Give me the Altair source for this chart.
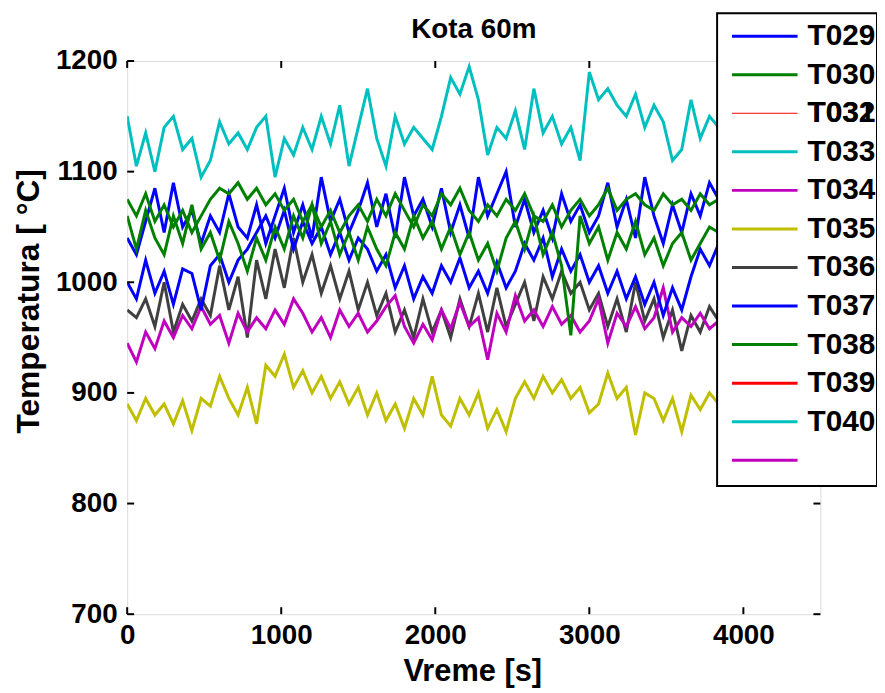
import altair as alt
import pandas as pd

# ---------------- data ----------------
time_s = list(range(0, 3841, 60))  # sampling instants [s]

T029 = [1040,1025,1055,1085,1045,1090,1050,1065,1035,1060,
        1045,1080,1050,1040,1070,1035,1060,1085,1045,1070,
        1040,1095,1055,1075,1045,1065,1090,1050,1080,1040,
        1095,1060,1075,1050,1085,1045,1070,1040,1095,1060,
        1080,1100,1050,1075,1045,1065,1040,1080,1055,1070,
        1045,1060,1090,1050,1075,1040,1095,1060,1035,1070,
        1045,1080,1060,1090,1075]
T030 = [1075,1060,1080,1055,1070,1050,1065,1045,1060,1075,
        1085,1080,1090,1075,1085,1070,1080,1065,1075,1055,
        1070,1050,1065,1045,1060,1070,1055,1075,1060,1080,
        1065,1050,1070,1060,1080,1070,1085,1065,1055,1070,
        1060,1075,1065,1080,1060,1055,1070,1050,1065,1075,
        1060,1070,1085,1065,1075,1080,1070,1065,1080,1070,
        1075,1065,1080,1070,1075]
T033 = [1150,1105,1135,1100,1140,1150,1120,1130,1095,1110,
        1145,1125,1135,1120,1140,1150,1095,1130,1115,1140,
        1120,1150,1125,1160,1105,1140,1175,1130,1105,1150,
        1125,1140,1130,1120,1150,1185,1170,1195,1165,1115,
        1140,1130,1155,1120,1175,1135,1150,1125,1140,1110,
        1190,1165,1175,1160,1150,1170,1140,1160,1145,1110,
        1120,1165,1130,1150,1140]
T034 = [945,928,955,940,965,950,970,958,978,962,
        970,945,972,955,968,958,975,962,985,972,
        955,968,950,975,960,972,955,965,978,988,
        960,945,962,948,975,958,982,960,968,930,
        972,955,988,965,975,960,978,962,970,955,
        965,985,945,972,960,978,958,968,995,955,
        968,960,972,958,965]
T035 = [890,875,895,880,890,872,893,866,895,888,
        915,895,880,905,872,925,915,935,905,920,
        900,915,895,910,890,905,880,900,875,890,
        868,895,880,915,880,870,895,880,900,868,
        885,865,895,910,895,915,900,912,895,905,
        882,890,918,895,905,862,900,895,875,895,
        865,898,885,900,890]
T036 = [975,968,985,960,1000,955,980,965,985,970,
        1015,975,1005,950,1020,985,1030,995,1040,1000,
        1025,990,1015,985,1010,975,1000,970,990,955,
        975,950,985,955,975,950,985,960,990,955,
        995,960,980,1000,965,1005,985,1010,990,1000,
        975,990,960,985,955,1000,965,985,950,975,
        938,970,955,978,965]
T037 = [1000,985,1020,990,1010,980,1012,1008,975,1015,
        1025,1000,1020,1030,1045,1060,1040,1065,1030,1055,
        1035,1050,1025,1045,1020,1040,1030,1010,1025,995,
        1015,985,1005,990,1015,1000,1022,995,1010,990,
        1018,995,1010,1035,1020,1040,1005,1030,1010,1025,
        1000,1015,990,1010,985,1005,980,1000,970,995,
        975,1005,1030,1015,1035]
T038 = [1060,1030,1065,1040,1025,1060,1035,1070,1030,1045,
        1020,1055,1035,1010,1040,1020,1050,1030,1060,1040,
        1070,1035,1055,1025,1045,1020,1050,1030,1015,1045,
        1030,1060,1040,1055,1030,1050,1025,1045,1020,1035,
        1010,1040,1055,1030,1060,1025,1045,1015,952,1060,
        1035,1050,1020,1045,1030,1055,1025,1040,1015,1035,
        1045,1020,1035,1050,1045]

# drawing order (first drawn at the bottom)
series_names = ["T033", "T035", "T036", "T034", "T029", "T037", "T030", "T038"]
series_values = [T033, T035, T036, T034, T029, T037, T030, T038]
series_colors = ["#00BFBF", "#BFBF00", "#404040", "#BF00BF",
                 "#0000FF", "#0000FF", "#008000", "#008000"]

x_ticks = [0, 1000, 2000, 3000, 4000]
y_ticks = [700, 800, 900, 1000, 1100, 1200]

title_text = "Kota 60m"
x_title = "Vreme [s]"
y_title = "Temperatura [ °C]"

# legend rows: labels (row 3 has two labels printed on top of each other)
legend_labels = [["T029"], ["T030"], ["T031", "T032"], ["T033"], ["T034"], ["T035"],
                 ["T036"], ["T037"], ["T038"], ["T039"], ["T040"], []]
legend_colors = ["#0000FF", "#008000", "#FF0000", "#00BFBF", "#BF00BF", "#BFBF00",
                 "#404040", "#0000FF", "#008000", "#FF0000", "#00BFBF", "#BF00BF"]
legend_widths = [3, 3, 1, 3, 3, 3, 3, 3, 3, 3, 3, 3]

# ---------------- tables ----------------
rows = []
for k, (name, vals) in enumerate(zip(series_names, series_values)):
    for t, v in zip(time_s, vals):
        rows.append({"series": name, "t": t, "temp": v, "k": k})
df = pd.DataFrame(rows)

leg_lines = pd.DataFrame({"row": list(range(len(legend_colors))),
                          "c": legend_colors, "w": legend_widths})
leg_text = pd.DataFrame([{"row": i, "label": lab}
                         for i, labs in enumerate(legend_labels) for lab in labs])

FONT = "Liberation Sans"
W, H = 698, 557

xscale = alt.Scale(domain=[0, 4500], nice=False, zero=False)
yscale = alt.Scale(domain=[700, 1200], nice=False, zero=False)

xaxis = alt.Axis(values=x_ticks, format="d", title=None, ticks=False, domain=False,
                 grid=False, labelFlush=False, labelOverlap=False, labelPadding=8,
                 labelFont=FONT, labelFontSize=28, labelFontWeight="bold", labelColor="black")
yaxis = alt.Axis(values=y_ticks, format="d", title=None, ticks=False,
                 domain=False, grid=False, labelFlush=False, labelOverlap=False, labelPadding=10,
                 labelFont=FONT, labelFontSize=28, labelFontWeight="bold", labelColor="black")

lines = alt.Chart(df).mark_line(strokeWidth=3, clip=True).encode(
    x=alt.X("t:Q", scale=xscale, axis=xaxis),
    y=alt.Y("temp:Q", scale=yscale, axis=yaxis),
    color=alt.Color("series:N", scale=alt.Scale(domain=series_names, range=series_colors),
                    legend=None),
    order=alt.Order("t:Q"),
)

xt = pd.DataFrame({"t": x_ticks})
yt = pd.DataFrame({"temp": y_ticks})
tick_bottom = alt.Chart(xt).mark_rule(color="black", strokeWidth=2).encode(
    x=alt.X("t:Q", scale=xscale), y=alt.value(H - 7), y2=alt.value(H))
tick_top = alt.Chart(xt).mark_rule(color="black", strokeWidth=2).encode(
    x=alt.X("t:Q", scale=xscale), y=alt.value(0), y2=alt.value(7))
tick_left = alt.Chart(yt).mark_rule(color="black", strokeWidth=2).encode(
    y=alt.Y("temp:Q", scale=yscale), x=alt.value(0), x2=alt.value(7))
tick_right = alt.Chart(yt).mark_rule(color="black", strokeWidth=2).encode(
    y=alt.Y("temp:Q", scale=yscale), x=alt.value(W - 7), x2=alt.value(W))

main = alt.layer(lines, tick_bottom, tick_top, tick_left, tick_right)

# ---------------- titles as text marks ----------------
one = pd.DataFrame({"a": [0]})
t_main = alt.Chart(one).mark_text(
    text=title_text, font=FONT, fontSize=28, fontWeight="bold", color="black",
    align="center", baseline="alphabetic", clip=False).encode(
    x=alt.value(W / 2), y=alt.value(-23))
t_x = alt.Chart(one).mark_text(
    text=x_title, font=FONT, fontSize=31, fontWeight="bold", color="black",
    align="center", baseline="alphabetic", clip=False).encode(
    x=alt.value(348), y=alt.value(H + 67))
t_y = alt.Chart(one).mark_text(
    text=y_title, font=FONT, fontSize=32, fontWeight="bold", color="black",
    align="center", baseline="alphabetic", angle=270, clip=False).encode(
    x=alt.value(-89), y=alt.value(242))

# ---------------- legend box (MATLAB style, over the plot) ----------------
box = alt.Chart(one).mark_rect(
    fill="white", stroke="black", strokeWidth=2, clip=False).encode(
    x=alt.value(594), x2=alt.value(755), y=alt.value(-48), y2=alt.value(428))

rowscale = alt.Scale(domain=[0, 11], range=[-25, 402], nice=False, zero=False)
leg_l = alt.Chart(leg_lines).mark_rule(clip=False).encode(
    x=alt.value(609), x2=alt.value(675),
    y=alt.Y("row:Q", scale=rowscale, axis=None),
    color=alt.Color("c:N", scale=None),
    strokeWidth=alt.StrokeWidth("w:Q", scale=None),
)
leg_t = alt.Chart(leg_text).mark_text(
    align="left", baseline="middle", font=FONT, fontSize=30, fontWeight="bold",
    color="black", clip=False).encode(
    x=alt.value(685),
    y=alt.Y("row:Q", scale=rowscale, axis=None),
    text="label:N",
)
legend = alt.layer(box, leg_l, leg_t)

chart = alt.layer(main, t_main, t_x, t_y, legend).resolve_scale(y="independent").properties(
    width=W, height=H,
    autosize=alt.AutoSizeParams(type="none"),
    padding={"left": 120, "top": 51, "right": 57, "bottom": 77},
).configure_view(stroke="black", strokeWidth=3).configure(background="white")

chart.save("out.html", embed_options={"renderer": "svg", "actions": False})
